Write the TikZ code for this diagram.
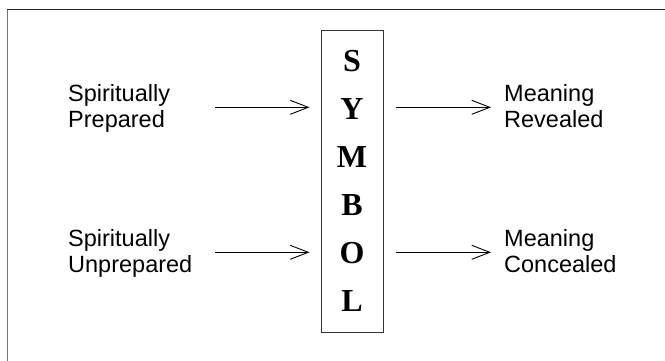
\documentclass[tikz,border=0pt]{standalone}
\usepackage{fontspec}
\setmainfont{Liberation Serif}
\newfontfamily\labelfont{Liberation Sans}
\usetikzlibrary{arrows.meta}
\begin{document}
\begin{tikzpicture}[x=1pt,y=-1pt,
  label text/.style={font=\labelfont\fontsize{23.5}{25.5}\selectfont, align=left, inner sep=0pt, anchor=base west},
  letter/.style={font=\fontsize{32}{32}\selectfont\bfseries, inner sep=0pt, anchor=base},
  flow/.style={line width=0.9pt, -{Straight Barb[length=18pt,width=14pt,line width=0.9pt]}},
  symbolbox/.style={draw=black!80, line width=1pt, minimum width=62pt, minimum height=302pt, inner sep=0pt}
]
\clip (0,0) rectangle (665,360);
\fill[white] (0,0) rectangle (665,360);

% outer frame (extends past the right and bottom edges)
\draw[black!55, line width=1.3pt] (7.5,400) -- (7.5,9.5);
\draw[black!85, line width=1.3pt] (7,9.5) -- (700,9.5);

% central symbol column
\node[symbolbox] (sym) at (352,181) {};
\foreach \ch [count=\k from 0] in {S,Y,M,B,O,L}
  \node[letter] (let\k) at (352,{71.5+47.9*\k}) {\ch};

% labels (anchored at the baseline of their last line)
\node[label text] (prep)   at (68,127) {Spiritually\\Prepared};
\node[label text] (unprep) at (68,272) {Spiritually\\Unprepared};
\node[label text] (rev)    at (504,127) {Meaning\\Revealed};
\node[label text] (conc)   at (504,272) {Meaning\\Concealed};

% arrow start points
\coordinate (inA)  at (215,107.3);
\coordinate (inB)  at (215,252.3);
\coordinate (outA) at (396,107.3);
\coordinate (outB) at (396,252.3);

\draw[flow, shorten >=11pt] (inA) -- (sym.west |- inA);
\draw[flow, shorten >=11pt] (inB) -- (sym.west |- inB);
\draw[flow, shorten >=13pt] (outA) -- (rev.west |- outA);
\draw[flow, shorten >=13pt] (outB) -- (conc.west |- outB);
\end{tikzpicture}
\end{document}
